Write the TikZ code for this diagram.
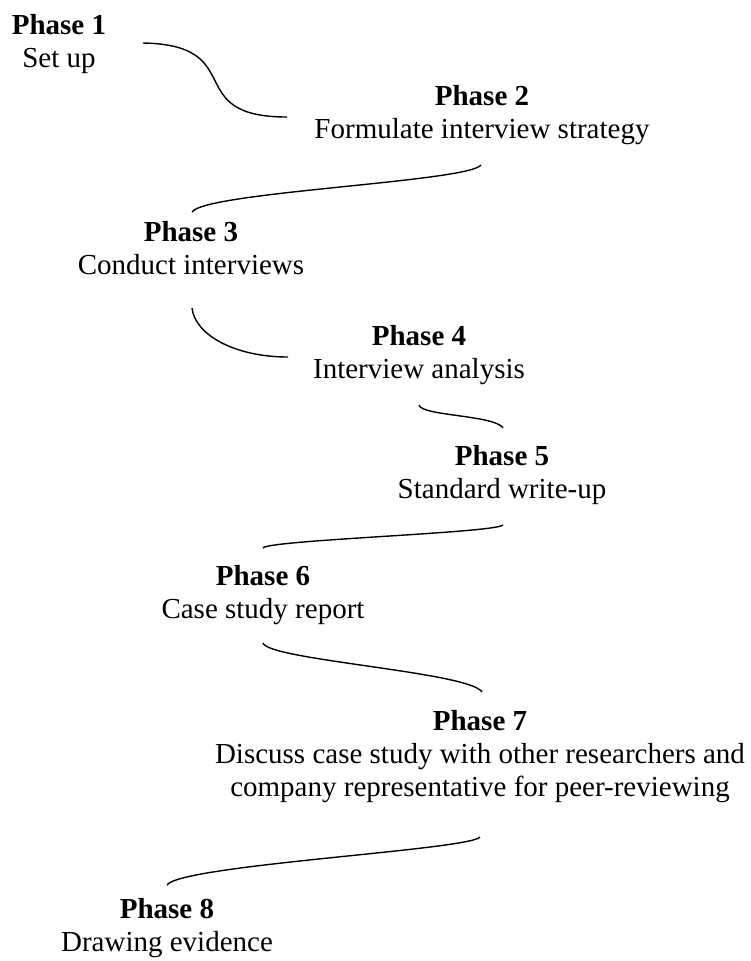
\documentclass[tikz,border=0pt]{standalone}
\usepackage{fontspec}
\setmainfont{Liberation Serif}
\tikzset{
  phase/.style={align=center,anchor=north,inner sep=0pt,
                font=\fontsize{29}{33}\selectfont},
  link/.style={line width=1.4pt,black},
}

\begin{document}
\begin{tikzpicture}[x=1pt,y=-1pt]
        \useasboundingbox (0,0) rectangle (751,961);
        \node[phase] (p1) at (59,14) {\textbf{Phase 1}\\Set up};
        \node[phase] (p2) at (482,85) {\textbf{Phase 2}\\Formulate interview strategy};
        \node[phase] (p3) at (191,221) {\textbf{Phase 3}\\Conduct interviews};
        \node[phase] (p4) at (419,325) {\textbf{Phase 4}\\Interview analysis};
        \node[phase] (p5) at (502,445) {\textbf{Phase 5}\\Standard write-up};
        \node[phase] (p6) at (263,565) {\textbf{Phase 6}\\Case study report};
        \node[phase] (p7) at (480,710) {\textbf{Phase 7}\\Discuss case study with other researchers and\\company representative for peer-reviewing};
        \node[phase] (p8) at (167,898) {\textbf{Phase 8}\\Drawing evidence};
        % curve ends
        \coordinate (c1a) at (143,43);  \coordinate (c1b) at (287,117);
        \coordinate (c2a) at (481,165); \coordinate (c2b) at (192,212);
        \coordinate (c3a) at (192,308); \coordinate (c3b) at (288,357);
        \coordinate (c4a) at (419,405); \coordinate (c4b) at (503,428);
        \coordinate (c5a) at (503,525); \coordinate (c5b) at (263,548);
        \coordinate (c6a) at (263,643); \coordinate (c6b) at (482,692);
        \coordinate (c7a) at (480,837); \coordinate (c7b) at (167,885);
        \draw[link] (c1a) .. controls (250,45) and (180,117) .. (c1b);
        \draw[link] (c2a) .. controls (468,182) and (205,192) .. (c2b);
        \draw[link] (c3a) .. controls (195,335) and (235,357) .. (c3b);
        \draw[link] (c4a) .. controls (421,416) and (495,415) .. (c4b);
        \draw[link] (c5a) .. controls (495,533) and (268,540) .. (c5b);
        \draw[link] (c6a) .. controls (268,660) and (470,672) .. (c6b);
        \draw[link] (c7a) .. controls (470,850) and (180,865) .. (c7b);
      \end{tikzpicture}
\end{document}
